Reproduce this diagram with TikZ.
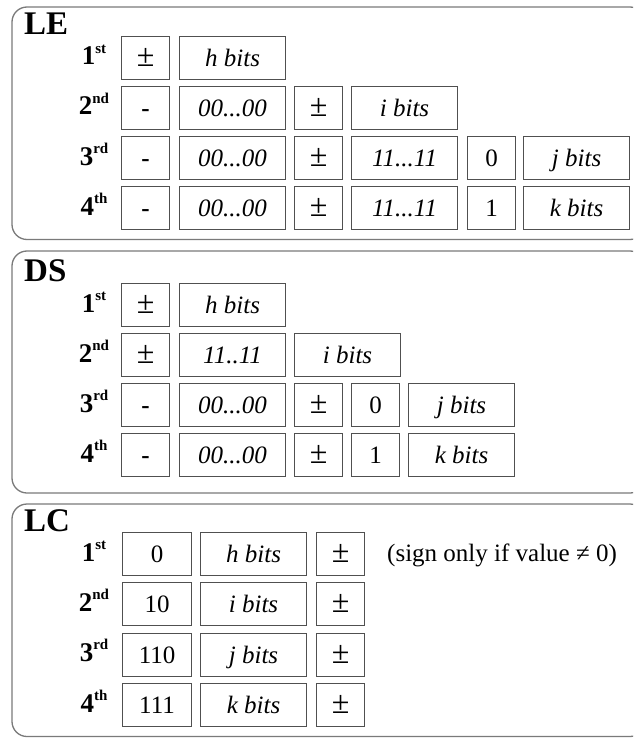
\documentclass[tikz,border=0pt]{standalone}
\usepackage{fontspec}
\setmainfont{Liberation Serif}[
  UprightFont={Liberation Serif},
  BoldFont={Liberation Serif Bold},
  ItalicFont={Liberation Serif Italic},
  BoldItalicFont={Liberation Serif Bold Italic}]
\definecolor{framegray}{HTML}{7A7A7A}
\definecolor{boxgray}{HTML}{505050}
\begin{document}
\begin{tikzpicture}[x=1pt,y=-1pt,
  panel/.style={draw=framegray, line width=1.3pt, rounded corners=15pt},
  title/.style={anchor=base west, inner sep=0pt, font=\fontsize{33}{33}\selectfont\bfseries},
  ordinal/.style={anchor=base, inner sep=0pt, font=\fontsize{27}{27}\selectfont\bfseries},
  cell/.style={draw=boxgray, line width=1.1pt, minimum width=#1, minimum height=43pt,
    inner sep=0pt, anchor=north west, text height=17pt, text depth=0pt,
    font=\fontsize{25}{25}\selectfont},
  note/.style={anchor=base west, inner sep=0pt, font=\fontsize{25}{25}\selectfont}]
\newcommand{\ordtxt}[2]{#1\raisebox{11.7pt}{\fontsize{15}{15}\selectfont #2}}
\newcommand{\pmsign}{\fontsize{32}{32}\selectfont ±}
\useasboundingbox (0,0) rectangle (633,738);
\clip (0,0) rectangle (633,738);

% ---------- LE ----------
\draw[panel] (12,7) rectangle (645,239.5);
\node[title] (leT) at (24,35) {LE};
\node[ordinal] (le1) at (94,65) {\ordtxt{1}{st}};
\node[ordinal] (le2) at (94,115) {\ordtxt{2}{nd}};
\node[ordinal] (le3) at (94,165) {\ordtxt{3}{rd}};
\node[ordinal] (le4) at (94,215) {\ordtxt{4}{th}};
% row 1
\node[cell=48]  (le1a) at (121,36) {\pmsign};
\node[cell=106] (le1b) at (179,36) {\itshape h bits};
% row 2
\node[cell=48]  (le2a) at (121,86) {\bfseries -};
\node[cell=106] (le2b) at (179,86) {\itshape 00...00};
\node[cell=48]  (le2c) at (294,86) {\pmsign};
\node[cell=106] (le2d) at (351,86) {\itshape i bits};
% row 3
\node[cell=48]  (le3a) at (121,136) {\bfseries -};
\node[cell=106] (le3b) at (179,136) {\itshape 00...00};
\node[cell=48]  (le3c) at (294,136) {\pmsign};
\node[cell=106] (le3d) at (351,136) {\itshape 11...11};
\node[cell=48]  (le3e) at (467,136) {0};
\node[cell=106] (le3f) at (523,136) {\itshape j bits};
% row 4
\node[cell=48]  (le4a) at (121,186) {\bfseries -};
\node[cell=106] (le4b) at (179,186) {\itshape 00...00};
\node[cell=48]  (le4c) at (294,186) {\pmsign};
\node[cell=106] (le4d) at (351,186) {\itshape 11...11};
\node[cell=48]  (le4e) at (467,186) {1};
\node[cell=106] (le4f) at (523,186) {\itshape k bits};

% ---------- DS ----------
\draw[panel] (12,251) rectangle (645,493);
\node[title] (dsT) at (24,281) {DS};
\node[ordinal] (ds1) at (94,312) {\ordtxt{1}{st}};
\node[ordinal] (ds2) at (94,362) {\ordtxt{2}{nd}};
\node[ordinal] (ds3) at (94,412) {\ordtxt{3}{rd}};
\node[ordinal] (ds4) at (94,462) {\ordtxt{4}{th}};
% row 1
\node[cell=48]  (ds1a) at (121,283) {\pmsign};
\node[cell=106] (ds1b) at (179,283) {\itshape h bits};
% row 2
\node[cell=48]  (ds2a) at (121,333) {\pmsign};
\node[cell=106] (ds2b) at (179,333) {\itshape 11..11};
\node[cell=106] (ds2c) at (294,333) {\itshape i bits};
% row 3
\node[cell=48]  (ds3a) at (121,383) {\bfseries -};
\node[cell=106] (ds3b) at (179,383) {\itshape 00...00};
\node[cell=48]  (ds3c) at (294,383) {\pmsign};
\node[cell=48]  (ds3d) at (351,383) {0};
\node[cell=106] (ds3e) at (408,383) {\itshape j bits};
% row 4
\node[cell=48]  (ds4a) at (121,433) {\bfseries -};
\node[cell=106] (ds4b) at (179,433) {\itshape 00...00};
\node[cell=48]  (ds4c) at (294,433) {\pmsign};
\node[cell=48]  (ds4d) at (351,433) {1};
\node[cell=106] (ds4e) at (408,433) {\itshape k bits};

% ---------- LC ----------
\draw[panel] (12,504) rectangle (645,736.5);
\node[title] (lcT) at (24,531.5) {LC};
\node[ordinal] (lc1) at (94,561) {\ordtxt{1}{st}};
\node[ordinal] (lc2) at (94,611.3) {\ordtxt{2}{nd}};
\node[ordinal] (lc3) at (94,661.6) {\ordtxt{3}{rd}};
\node[ordinal] (lc4) at (94,712) {\ordtxt{4}{th}};
% row 1
\node[cell=69]  (lc1a) at (122,532) {0};
\node[cell=106] (lc1b) at (200,532) {\itshape h bits};
\node[cell=48]  (lc1c) at (316,532) {\pmsign};
\node[note]     (lc1n) at (387,561.5) {(sign only if value ≠ 0)};
% row 2
\node[cell=69]  (lc2a) at (122,582.3) {10};
\node[cell=106] (lc2b) at (200,582.3) {\itshape i bits};
\node[cell=48]  (lc2c) at (316,582.3) {\pmsign};
% row 3
\node[cell=69]  (lc3a) at (122,632.6) {110};
\node[cell=106] (lc3b) at (200,632.6) {\itshape j bits};
\node[cell=48]  (lc3c) at (316,632.6) {\pmsign};
% row 4
\node[cell=69]  (lc4a) at (122,683) {111};
\node[cell=106] (lc4b) at (200,683) {\itshape k bits};
\node[cell=48]  (lc4c) at (316,683) {\pmsign};
\end{tikzpicture}
\end{document}
